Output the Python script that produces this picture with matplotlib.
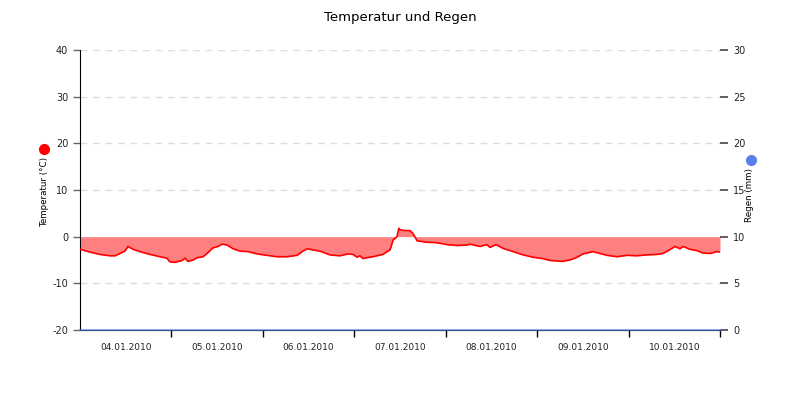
import matplotlib
matplotlib.use("Agg")
import matplotlib.pyplot as plt
import matplotlib.dates as mdates
from matplotlib.lines import Line2D
from datetime import datetime, timedelta

# --- Daten ---
START = datetime(2010, 1, 4, 0, 0)

# Stunden seit 04.01.2010 00:00
temp_hours = [0, 2.6, 5.2, 7.9, 9.2, 10.5, 11.8, 12.6, 13.9, 15.7, 18.4, 21.0, 22.8, 23.6,
              24.9, 26.8, 27.6, 28.3, 29.7, 30.7, 32.3, 33.6, 34.9, 36.2, 37.3, 38.6, 40.2,
              42.0, 44.1, 46.5, 49.1, 51.7, 54.3, 57.0, 58.3, 59.6, 60.9, 63.0, 65.6, 68.2,
              70.3, 71.7, 72.7, 73.5, 74.3, 75.3, 76.9, 79.5, 81.4, 82.2, 83.2, 83.7, 84.0,
              85.3, 86.6, 87.4, 88.5, 91.1, 93.7, 96.3, 99.0, 101.6, 102.4, 105.0, 106.8,
              107.6, 109.2, 111.0, 113.7, 116.3, 118.9, 121.5, 123.4, 126.5, 128.6, 130.5,
              132.0, 134.7, 136.5, 138.3, 141.0, 143.6, 146.2, 148.8, 151.5, 153.0, 154.4,
              156.2, 157.5, 158.3, 160.1, 162.0, 163.5, 165.4, 167.2, 168.0]
temp_c = [-2.7, -3.3, -3.8, -4.1, -4.1, -3.6, -3.1, -2.1, -2.7, -3.2, -3.8, -4.3, -4.6, -5.4,
          -5.5, -5.1, -4.6, -5.3, -5.0, -4.5, -4.3, -3.4, -2.4, -2.1, -1.6, -1.8, -2.6,
          -3.1, -3.2, -3.7, -4.0, -4.3, -4.3, -4.0, -3.2, -2.6, -2.8, -3.1, -3.9, -4.1,
          -3.7, -3.8, -4.4, -4.1, -4.7, -4.5, -4.3, -3.8, -2.8, -0.7, 0.0, 1.8, 1.5,
          1.3, 1.3, 0.7, -0.9, -1.2, -1.3, -1.7, -1.9, -1.8, -1.6, -2.1, -1.7,
          -2.3, -1.7, -2.5, -3.2, -3.9, -4.4, -4.7, -5.1, -5.3, -5.0, -4.4,
          -3.7, -3.2, -3.6, -4.0, -4.3, -4.0, -4.1, -3.9, -3.8, -3.6, -3.0,
          -2.1, -2.6, -2.1, -2.7, -3.0, -3.5, -3.6, -3.2, -3.3]

rain_hours = [0, 24, 48, 72, 96, 120, 144, 168]
rain_mm = [0.0, 0.0, 0.0, 0.0, 0.0, 0.0, 0.0, 0.0]

TEMP_TICKS = [-20, -10, 0, 10, 20, 30, 40]
RAIN_TICKS = [0, 5, 10, 15, 20, 25, 30]

TEMP_COLOR = '#ff0000'
RAIN_COLOR = '#5b7fe8'

t_times = [START + timedelta(hours=h) for h in temp_hours]
r_times = [START + timedelta(hours=h) for h in rain_hours]

plt.rcParams['font.family'] = ['DejaVu Sans']

fig = plt.figure(figsize=(8, 4), dpi=100)
ax = fig.add_axes([0.1, 0.175, 0.8, 0.7])
ax2 = ax.twinx()

# Temperatur
ax.fill_between(t_times, temp_c, 0, color='#ff8080', linewidth=0, zorder=2)
ax.plot(t_times, temp_c, color=TEMP_COLOR, linewidth=1.2, zorder=3)
ax.set_ylim(-20, 40)
ax.set_yticks(TEMP_TICKS)
ax.set_yticklabels([str(v) for v in TEMP_TICKS])
for v in TEMP_TICKS[1:]:
    if v != 0:
        ax.axhline(v, color='#dddddd', linewidth=1, linestyle=(0, (5, 4)), zorder=1)

# Regen
ax2.plot(r_times, rain_mm, color=RAIN_COLOR, linewidth=1.5, alpha=0.6, clip_on=False, zorder=4)
ax2.set_ylim(0, 30)
ax2.set_yticks(RAIN_TICKS)

ax.set_xlim(START, START + timedelta(days=7))
day_ticks = [START + timedelta(days=d) for d in range(1, 8)]
ax.set_xticks(day_ticks)
ax.xaxis.set_major_formatter(plt.NullFormatter())
ax.xaxis.set_minor_locator(mdates.HourLocator(byhour=[12]))
ax.xaxis.set_minor_formatter(mdates.DateFormatter('%d.%m.%Y'))
ax.tick_params(axis='x', which='major', length=5, width=1, color='black')
ax.tick_params(axis='x', which='minor', length=0, labelsize=6.5, pad=9, labelcolor='#222222')
ax.tick_params(axis='y', length=5, width=1, color='#666666', labelsize=7, labelcolor='#222222')
ax2.tick_params(axis='y', length=6, width=1.2, color='#444444', labelsize=7, labelcolor='#222222')

for s in ['top', 'right']:
    ax.spines[s].set_visible(False)
for s in ['top', 'right', 'left', 'bottom']:
    ax2.spines[s].set_visible(False)
ax.spines['left'].set_color('black')
ax.spines['bottom'].set_color('black')

# Titel und Achsenbeschriftungen
fig.text(0.5, 1 - 18 / 400, 'Temperatur und Regen', ha='center', va='center', fontsize=9.5)
fig.text(45 / 800, 1 - 192 / 400, 'Temperatur (°C)', rotation=90, ha='center', va='center', fontsize=6.3)
fig.text(750 / 800, 1 - 195 / 400, 'Regen (mm)', rotation=90, ha='center', va='center', fontsize=6.3)
fig.add_artist(Line2D([44 / 800], [1 - 149 / 400], marker='o', markersize=7, color=TEMP_COLOR,
                      transform=fig.transFigure))
fig.add_artist(Line2D([751 / 800], [1 - 160 / 400], marker='o', markersize=7, color=RAIN_COLOR,
                      transform=fig.transFigure))

fig.savefig('out.png', dpi=100)
